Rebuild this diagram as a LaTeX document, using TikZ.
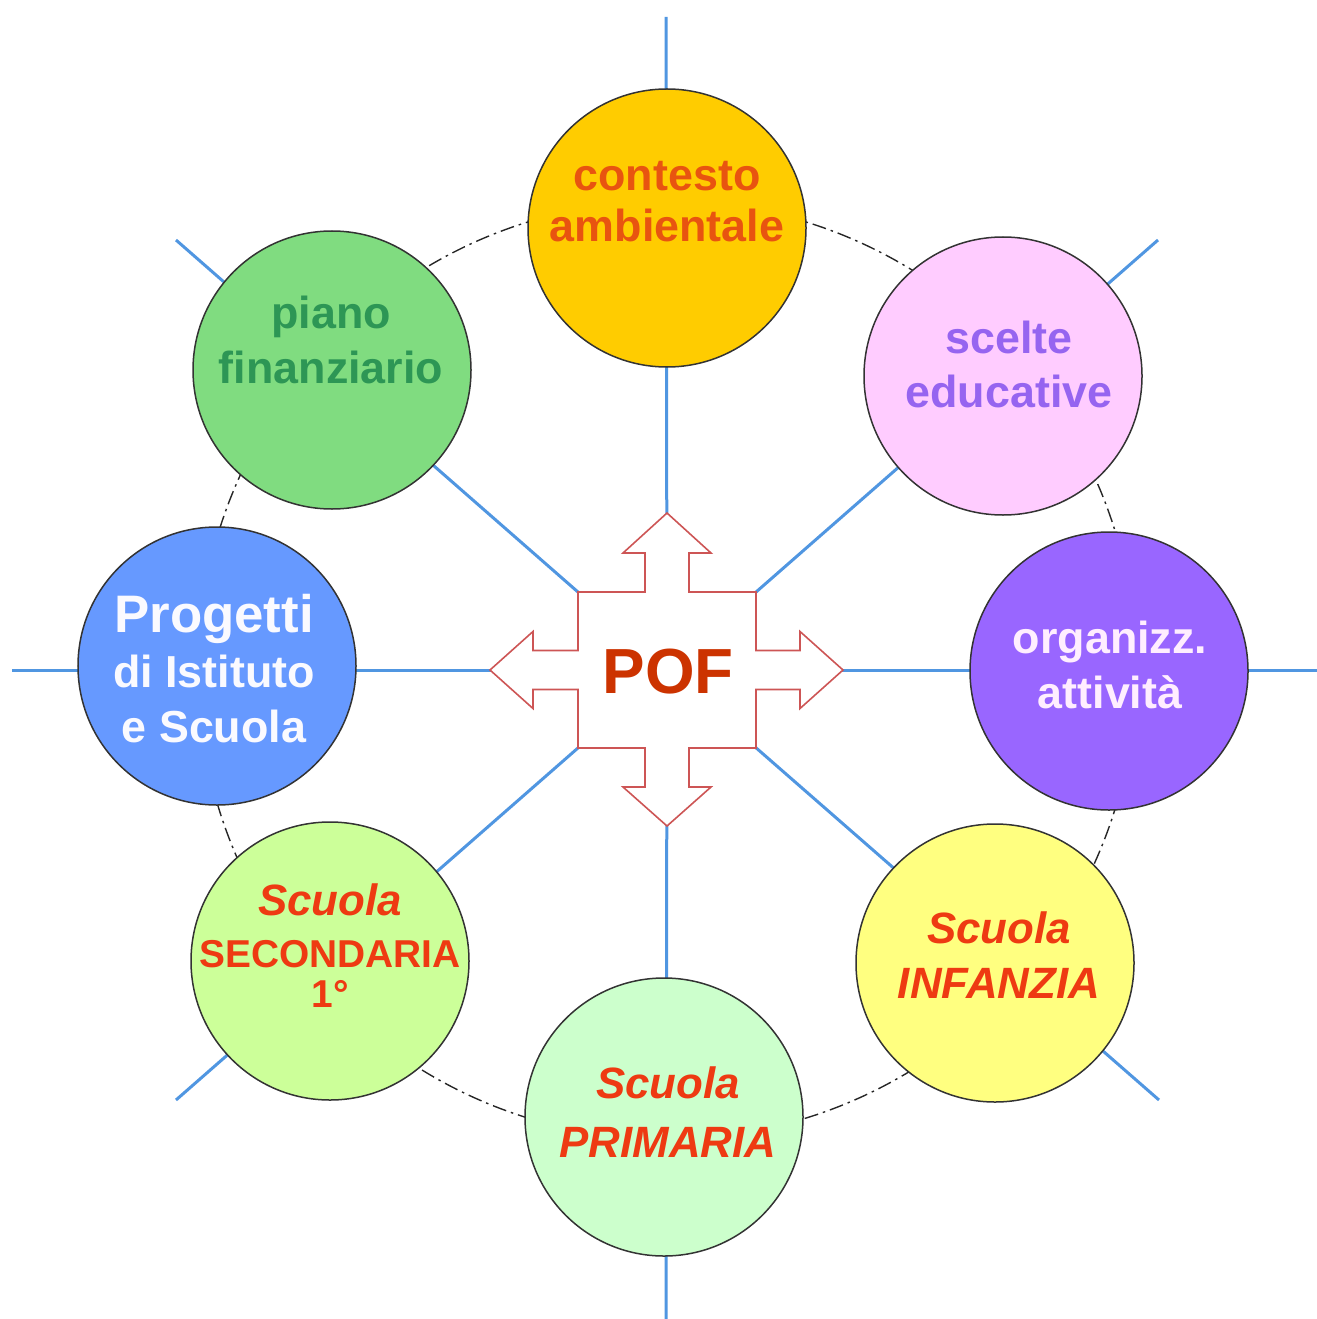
\documentclass[tikz,border=0pt]{standalone}
\usepackage{fontspec}
\setmainfont{Liberation Sans}
\usetikzlibrary{backgrounds}
\definecolor{spokeblue}{RGB}{80,150,225}
\definecolor{pofred}{RGB}{204,51,0}
\definecolor{pofline}{RGB}{205,85,85}
\definecolor{ctxfill}{RGB}{255,204,0}
\definecolor{ctxtext}{RGB}{232,84,16}
\definecolor{pianofill}{RGB}{128,220,128}
\definecolor{pianotext}{RGB}{45,150,85}
\definecolor{sceltefill}{RGB}{255,204,255}
\definecolor{sceltetext}{RGB}{150,100,240}
\definecolor{orgfill}{RGB}{153,102,255}
\definecolor{orgtext}{RGB}{255,238,255}
\definecolor{infanziafill}{RGB}{255,255,128}
\definecolor{primariafill}{RGB}{204,255,204}
\definecolor{secondfill}{RGB}{204,255,153}
\definecolor{progfill}{RGB}{102,153,255}
\definecolor{progtext}{RGB}{250,250,255}
\definecolor{scuolared}{RGB}{238,58,18}
\begin{document}
\begin{tikzpicture}[x=1bp,y=-1bp,
  bubble/.style={circle, draw=black!80, line width=1.5bp, minimum size=278bp, inner sep=0pt},
  spoke/.style={line width=3bp, draw=spokeblue},
  ring/.style={draw=black!85, line width=1.4bp, dash pattern=on 14bp off 5bp on 2.5bp off 5bp},
  lbl/.style={align=center, anchor=base, font=\bfseries\fontsize{45}{53}\selectfont},
  pofarrow/.style={draw=pofline, fill=white, line width=1.6bp, line join=miter}]
\useasboundingbox (0,0) rectangle (1317,1319);

% hub
\coordinate (c) at (667,670);
\path[pofarrow] (c)
  ++(0,-157) -- ++(44,40) -- ++(-22,0) -- ++(0,39) -- ++(67,0) -- ++(0,58.5)
  -- ++(44,0) -- ++(0,-19) -- ++(43,38.5) -- ++(-43,38.5) -- ++(0,-19) -- ++(-44,0)
  -- ++(0,58.5) -- ++(-67,0) -- ++(0,39) -- ++(22,0) -- ++(-44,39) -- ++(-44,-39)
  -- ++(22,0) -- ++(0,-39) -- ++(-67,0) -- ++(0,-58.5) -- ++(-45,0) -- ++(0,19)
  -- ++(-43,-38.5) -- ++(43,-38.5) -- ++(0,19) -- ++(45,0) -- ++(0,-58.5)
  -- ++(67,0) -- ++(0,-39) -- ++(-22,0) -- cycle;
\node[font=\bfseries\fontsize{64}{64}\selectfont, text=pofred, inner sep=0pt] (hub) at (668,671.5) {POF};

% circles
\node[bubble, fill=ctxfill]      (ctx)  at (667,228)  {};
\node[bubble, fill=sceltefill]   (sce)  at (1003,376) {};
\node[bubble, fill=orgfill]      (org)  at (1109,671) {};
\node[bubble, fill=infanziafill] (inf)  at (995,963)  {};
\node[bubble, fill=primariafill] (pri)  at (664,1117) {};
\node[bubble, fill=secondfill]   (sec)  at (330,961)  {};
\node[bubble, fill=progfill]     (pro)  at (217,666)  {};
\node[bubble, fill=pianofill]    (pia)  at (332,370)  {};

% labels (anchor = baseline of the last line)
\node[lbl, text=ctxtext, font=\bfseries\fontsize{45}{52}\selectfont] (ctxl) at (667,242) {contesto\\ambientale};
\node[lbl, text=pianotext, font=\bfseries\fontsize{45}{55}\selectfont] (pial) at (331,383) {piano\\finanziario};
\node[lbl, text=sceltetext, font=\bfseries\fontsize{45}{54}\selectfont] (scel) at (1009,407) {scelte\\educative};
\node[lbl, text=orgtext, font=\bfseries\fontsize{45}{55}\selectfont] (orgl) at (1110,708) {organizz.\\attività};
\node[lbl, text=progtext, font=\bfseries\fontsize{45}{55}\selectfont] (prol) at (214,742) {{\fontsize{53}{55}\selectfont Progetti}\\di Istituto\\e Scuola};
\node[lbl, text=scuolared, font=\bfseries\fontsize{44}{52}\selectfont] (secl) at (330,1007) {{\itshape Scuola}\\{\fontsize{39}{52}\selectfont SECONDARIA}\\[-12bp]{\fontsize{39}{40}\selectfont 1°}};
\node[lbl, text=scuolared, font=\bfseries\itshape\fontsize{44}{59}\selectfont] (pril) at (668,1157) {Scuola\\PRIMARIA};
\node[lbl, text=scuolared, font=\bfseries\itshape\fontsize{44}{55}\selectfont] (infl) at (999,998) {Scuola\\INFANZIA};

% background: spokes and ring
\begin{pgfonlayer}{background}
  \coordinate (eN)  at (666,17);
  \coordinate (eS)  at (666,1319);
  \coordinate (eW)  at (12,670);
  \coordinate (eE)  at (1317,670);
  \coordinate (eNW) at (176,240);
  \coordinate (eNE) at (1158,240);
  \coordinate (eSW) at (176,1100);
  \coordinate (eSE) at (1159,1100);
  \foreach \e in {eN,eS,eW,eE,eNW,eNE,eSW,eSE}
    \draw[spoke] (c) -- (\e);
  \draw[ring] (c) circle (469);
\end{pgfonlayer}
\end{tikzpicture}
\end{document}
